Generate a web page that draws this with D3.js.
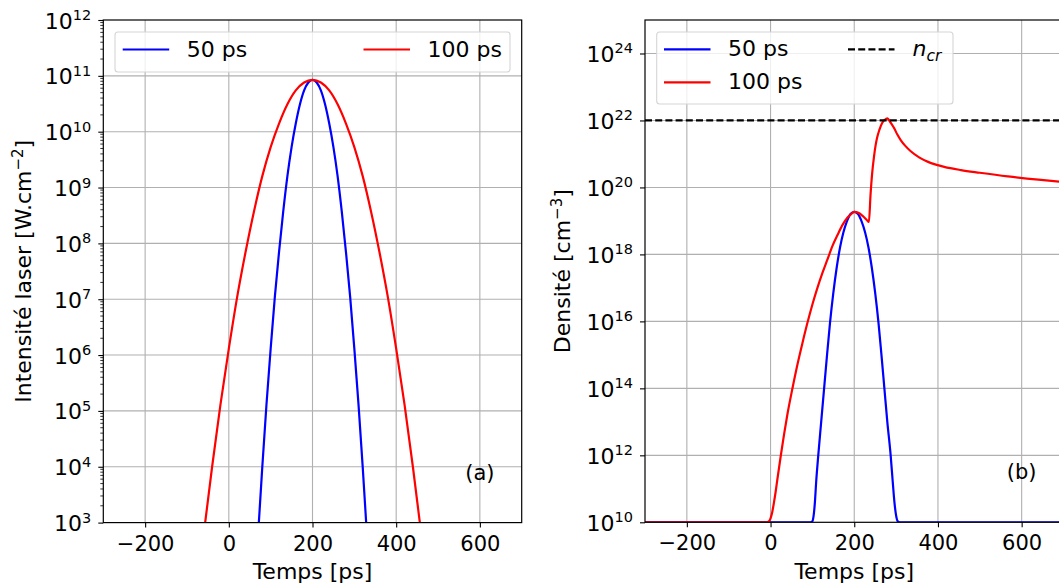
<!DOCTYPE html>
<html><head><meta charset="utf-8">
<script src="https://cdn.jsdelivr.net/npm/d3@7"></script>
<style>
body{margin:0;background:#fff;overflow:hidden;}
svg{display:block;font-family:"DejaVu Sans",Verdana,sans-serif;}
</style></head><body>
<svg id="c" width="1059" height="586"></svg>
<script>
// ---------- data ----------
const xTicks = [-200, 0, 200, 400, 600];
const intensityExps = [3, 4, 5, 6, 7, 8, 9, 10, 11, 12];
const densityExps = [10, 12, 14, 16, 18, 20, 22, 24];
const legendLabels = ["50 ps", "100 ps"];
const nCritical = 1e22;

// Panel (a): laser intensity [W.cm-2] vs time [ps]
const timeA50 = [70, 80, 90, 100, 110, 120, 130, 140, 150, 160, 170, 180, 190, 200,
                 210, 220, 230, 240, 250, 260, 270, 280, 290, 300, 310, 320, 330];
const intensA50 = [6.2e2, 9.9e3, 1.3e5, 1.3e6, 1.1e7, 7.0e7, 3.7e8, 1.6e9, 5.3e9, 1.4e10, 3.1e10, 5.5e10, 7.6e10, 8.5e10,
                   7.6e10, 5.5e10, 3.1e10, 1.4e10, 5.3e9, 1.6e9, 3.7e8, 7.0e7, 1.1e7, 1.3e6, 1.3e5, 9.9e3, 6.2e2];
const timeA100 = [-60, -40, -20, 0, 20, 40, 60, 80, 100, 120, 140, 160, 180, 200,
                  220, 240, 260, 280, 300, 320, 340, 360, 380, 400, 420, 440, 460];
const intensA100 = [6.2e2, 9.9e3, 1.3e5, 1.3e6, 1.1e7, 7.0e7, 3.7e8, 1.6e9, 5.3e9, 1.4e10, 3.1e10, 5.5e10, 7.6e10, 8.5e10,
                    7.6e10, 5.5e10, 3.1e10, 1.4e10, 5.3e9, 1.6e9, 3.7e8, 7.0e7, 1.1e7, 1.3e6, 1.3e5, 9.9e3, 6.2e2];

// Panel (b): electron density [cm-3] vs time [ps]
const timeB50 = [-300, 95, 100, 103, 106, 109, 114, 121, 128, 135, 142, 150, 158, 166, 174, 182, 191, 200,
                 209, 218, 226, 234, 242, 250, 258, 265, 272, 279, 287, 292, 296, 300, 304, 309, 700];
const densB50 = [1e10, 1e10, 1.07e10, 1.6e10, 4e10, 1.6e11, 1e12, 1e13, 1e14, 1e15, 8.9e15, 7.1e16, 4e17, 1.6e18, 4.5e18, 9.3e18, 1.6e19, 1.86e19,
                 1.6e19, 9.3e18, 4.5e18, 1.6e18, 4e17, 7.1e16, 8.9e15, 1e15, 1e14, 1e13, 1e12, 1.6e11, 4e10, 1.6e10, 1.07e10, 1e10, 1e10];
const timeB100 = [-300, -10, -4, 0, 4, 8, 12, 16, 24, 32, 40, 53, 64, 76, 88, 100, 112, 124, 136, 148, 160, 172, 184, 194, 200,
                  210, 220, 230, 235, 239, 243, 247, 251, 255, 260, 267, 273, 279,
                  284, 289, 295, 303, 311, 322, 335, 355, 375, 395, 415, 455, 500, 567, 640, 700];
const densB100 = [1e10, 1e10, 1.07e10, 1.32e10, 2e10, 3.8e10, 7.9e10, 1.8e11, 8.9e11, 4e12, 1.6e13, 1.1e14, 5e14, 2.2e15, 8.9e15, 3.2e16, 1e17, 2.8e17, 7.1e17, 1.8e18, 3.8e18, 7.6e18, 1.26e19, 1.66e19, 1.86e19,
                  1.74e19, 1.41e19, 1.07e19, 9.3e18, 6.3e19, 2.8e20, 7.9e20, 1.8e21, 3.2e21, 5.2e21, 8.5e21, 1.05e22, 1.15e22,
                  9.8e21, 7.9e21, 6e21, 3.8e21, 2.6e21, 1.74e21, 1.2e21, 7.9e20, 5.9e20, 4.8e20, 4.1e20, 3.3e20, 2.75e20, 2.14e20, 1.7e20, 1.45e20];

const colors = ["#0000ff", "#ff0000"];

// ---------- drawing ----------
const svg = d3.select("#c");
svg.append("rect").attr("width", 1059).attr("height", 586).attr("fill", "#fff");

function drawPanel(p) {
  const x = d3.scaleLinear().domain([-300, 700]).range([p.left, p.right]);
  const y = d3.scaleLog().domain(p.yDomain).range([p.bottom, p.top]);
  const g = svg.append("g");
  const clipId = "clip-" + p.id;
  g.append("clipPath").attr("id", clipId).append("rect")
    .attr("x", p.left).attr("y", p.top).attr("width", p.right - p.left).attr("height", p.bottom - p.top);
  const majors = p.exps.map(e => Math.pow(10, e));

  // grid
  const grid = g.append("g").attr("stroke", "#b0b0b0").attr("stroke-width", 1.1);
  grid.selectAll("line.v").data(xTicks).join("line").attr("class", "v")
    .attr("x1", d => x(d)).attr("x2", d => x(d)).attr("y1", p.top).attr("y2", p.bottom);
  grid.selectAll("line.h").data(majors.filter(d => d > p.yDomain[0] && d < p.yDomain[1])).join("line").attr("class", "h")
    .attr("x1", p.left).attr("x2", p.right).attr("y1", d => y(d)).attr("y2", d => y(d));

  // curves
  const line = d3.line().x(d => x(d[0])).y(d => y(d[1])).curve(d3.curveMonotoneX);
  const plot = g.append("g").attr("clip-path", `url(#${clipId})`);
  p.series.forEach((s, i) => {
    plot.append("path").datum(d3.zip(s.t, s.v)).attr("d", line)
      .attr("fill", "none").attr("stroke", colors[i]).attr("stroke-width", 2.2)
      .attr("stroke-linejoin", "round");
  });
  if (p.ncr) {
    plot.append("line").attr("x1", p.left).attr("x2", p.right)
      .attr("y1", y(nCritical)).attr("y2", y(nCritical))
      .attr("stroke", "#000").attr("stroke-width", 2.2).attr("stroke-dasharray", "7,3.2");
  }

  // x axis
  const xa = g.append("g").attr("transform", `translate(0,${p.bottom})`)
    .call(d3.axisBottom(x).tickValues(xTicks).tickSize(5).tickSizeOuter(0)
      .tickFormat(d => d < 0 ? "\u2212" + (-d) : String(d)));
  xa.select(".domain").remove();
  xa.attr("font-family", null).attr("font-size", 21);
  xa.selectAll("line").attr("stroke", "#000").attr("stroke-width", 1.1);
  xa.selectAll("text").attr("fill", "#000").attr("y", 28).attr("dy", 0);

  // y axis
  const ya = g.append("g").attr("transform", `translate(${p.left},0)`)
    .call(d3.axisLeft(y).tickValues(majors).tickSize(5).tickSizeOuter(0).tickFormat(() => ""));
  ya.select(".domain").remove();
  ya.attr("font-family", null).attr("font-size", 22);
  ya.selectAll("line").attr("stroke", "#000").attr("stroke-width", 1.1);
  ya.selectAll(".tick").each(function (d) {
    const t = d3.select(this).select("text");
    t.text(null).attr("x", -12).attr("y", 8).attr("dy", 0).attr("text-anchor", "end").attr("fill", "#000");
    t.append("tspan").attr("font-size", 22).text("10");
    t.append("tspan").attr("font-size", 14.5).attr("dy", -8.5).text(Math.round(Math.log10(d)));
  });
  if (p.minor) {
    const minors = [];
    for (let e = p.exps[0]; e < p.exps[p.exps.length - 1]; e++)
      for (let m = 2; m < 10; m++) minors.push(m * Math.pow(10, e));
    g.append("g").selectAll("line").data(minors).join("line")
      .attr("x1", p.left - 3).attr("x2", p.left).attr("y1", d => y(d)).attr("y2", d => y(d))
      .attr("stroke", "#000").attr("stroke-width", 0.8);
  }

  // spines
  g.append("rect").attr("x", p.left).attr("y", p.top).attr("width", p.right - p.left).attr("height", p.bottom - p.top)
    .attr("fill", "none").attr("stroke", "#000").attr("stroke-width", 1.2);

  // axis labels
  g.append("text").attr("x", (p.left + p.right) / 2).attr("y", 579).attr("text-anchor", "middle")
    .attr("font-size", 22).text("Temps [ps]");
  const yl = g.append("text")
    .attr("transform", `translate(${p.ylabelX},${(p.top + p.bottom) / 2}) rotate(-90)`)
    .attr("text-anchor", "middle").attr("font-size", 22);
  yl.append("tspan").text(p.ylabel);
  yl.append("tspan").attr("font-size", 15).attr("dy", -8).text(p.ylabelSup);
  yl.append("tspan").attr("dy", 8).text("]");

  // panel tag
  g.append("text").attr("x", x(600)).attr("y", p.tagY).attr("text-anchor", "middle")
    .attr("font-size", 21).text(p.tag);

  // legend
  const L = p.legend;
  g.append("rect").attr("x", L.x).attr("y", L.y).attr("width", L.w).attr("height", L.h)
    .attr("rx", 3).attr("fill", "#fff").attr("fill-opacity", 0.8)
    .attr("stroke", "#d5d5d5").attr("stroke-width", 1.1);
  L.items.forEach(it => {
    g.append("line").attr("x1", it.x).attr("x2", it.x + 46.5).attr("y1", it.y).attr("y2", it.y)
      .attr("stroke", it.color).attr("stroke-width", 2.2).attr("stroke-dasharray", it.dash || null);
    if (it.label === "ncr") {
      const t = g.append("text").attr("x", it.x + 64.5).attr("y", it.y + 7).attr("font-size", 22)
        .attr("font-style", "italic");
      t.append("tspan").text("n");
      t.append("tspan").attr("font-size", 15.5).attr("dy", 5).text("cr");
    } else {
      g.append("text").attr("x", it.x + 64).attr("y", it.y + 7).attr("font-size", 22).text(it.label);
    }
  });
}

drawPanel({
  id: "a", left: 103.3, right: 521.7, top: 20, bottom: 522.6,
  yDomain: [1e3, 1e12], exps: intensityExps, minor: true,
  series: [{t: timeA50, v: intensA50}, {t: timeA100, v: intensA100}],
  ylabel: "Intensité laser [W.cm", ylabelSup: "\u22122", ylabelX: 30.5,
  tag: "(a)", tagY: 480,
  legend: {x: 115, y: 32, w: 395, h: 40, items: [
    {x: 122.7, y: 49.5, color: colors[0], label: legendLabels[0]},
    {x: 363.5, y: 49.5, color: colors[1], label: legendLabels[1]}
  ]}
});

drawPanel({
  id: "b", left: 645, right: 1063.5, top: 20, bottom: 522.3,
  yDomain: [1e10, 1e25], exps: densityExps, minor: false, ncr: true,
  series: [{t: timeB50, v: densB50}, {t: timeB100, v: densB100}],
  ylabel: "Densité [cm", ylabelSup: "\u22123", ylabelX: 570,
  tag: "(b)", tagY: 479,
  legend: {x: 656.7, y: 32, w: 296.3, h: 72, items: [
    {x: 664, y: 49.3, color: colors[0], label: legendLabels[0]},
    {x: 664, y: 82.3, color: colors[1], label: legendLabels[1]},
    {x: 848, y: 49.3, color: "#000", label: "ncr", dash: "7,3.2"}
  ]}
});
</script>
</body></html>
